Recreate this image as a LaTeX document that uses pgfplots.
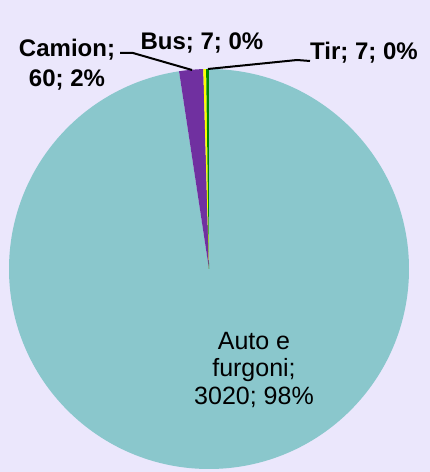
\documentclass[border=0pt]{standalone}
\usepackage{pgfplots}
\usepackage{pgfplotstable}
\pgfplotsset{compat=1.18}
\usepackage{fontspec}
\setmainfont{Liberation Sans}
\definecolor{bgc}{HTML}{EBE7FC}
\definecolor{autoc}{HTML}{8AC7CC}
\definecolor{camc}{HTML}{7030A0}
\definecolor{busc}{HTML}{FFFF00}
\definecolor{tirc}{HTML}{008A00}
\pgfplotstableread{
label value colour
Auto 3020 autoc
Camion 60 camc
Bus 7 busc
Tir 7 tirc
}\pietable
\begin{document}
\begin{tikzpicture}
\fill[bgc] (0,0) rectangle (430pt,472pt);
\begin{axis}[
  scale only axis, width=430pt, height=472pt,
  xmin=0, xmax=430, ymin=0, ymax=472,
  hide axis, clip=false,
]
\pgfplotsextra{
  \pgfplotstablegetrowsof{\pietable}
  \pgfmathtruncatemacro\nrows{\pgfplotsretval-1}
  \gdef\pietotal{0}
  \foreach \i in {0,...,\nrows}{
    \pgfplotstablegetelem{\i}{value}\of\pietable
    \pgfmathsetmacro\tmpt{\pietotal+\pgfplotsretval}
    \xdef\pietotal{\tmpt}
  }
  \gdef\cumangle{90}
  \foreach \i in {0,...,\nrows}{
    \pgfplotstablegetelem{\i}{value}\of\pietable
    \let\sliceval\pgfplotsretval
    \pgfplotstablegetelem{\i}{colour}\of\pietable
    \let\slicecol\pgfplotsretval
    \pgfmathsetmacro\aend{\cumangle-\sliceval/\pietotal*360}
    \fill[fill=\slicecol] (axis cs:209,203) -- ++(\cumangle:200pt)
       arc[start angle=\cumangle, end angle=\aend, radius=200pt] -- cycle;
    \xdef\cumangle{\aend}
  }
  \draw[black, line width=2pt] (axis cs:120,419) -- (axis cs:133,419) -- (axis cs:192,402);
  \draw[black, line width=2pt] (axis cs:208,403) -- (axis cs:297,412) -- (axis cs:310,411);
  \node[align=center, font=\fontsize{24}{30}\selectfont\bfseries] at (axis cs:67,407) {Camion;\\60; 2\%};
  \node[font=\fontsize{24}{30}\selectfont\bfseries] at (axis cs:202,429) {Bus; 7; 0\%};
  \node[anchor=west, inner sep=0pt, font=\fontsize{24}{30}\selectfont\bfseries] at (axis cs:310,419) {Tir; 7; 0\%};
  \node[align=center, font=\fontsize{25}{28}\selectfont] at (axis cs:254,102) {Auto e\\furgoni;\\3020; 98\%};
}
\end{axis}
\end{tikzpicture}
\end{document}
